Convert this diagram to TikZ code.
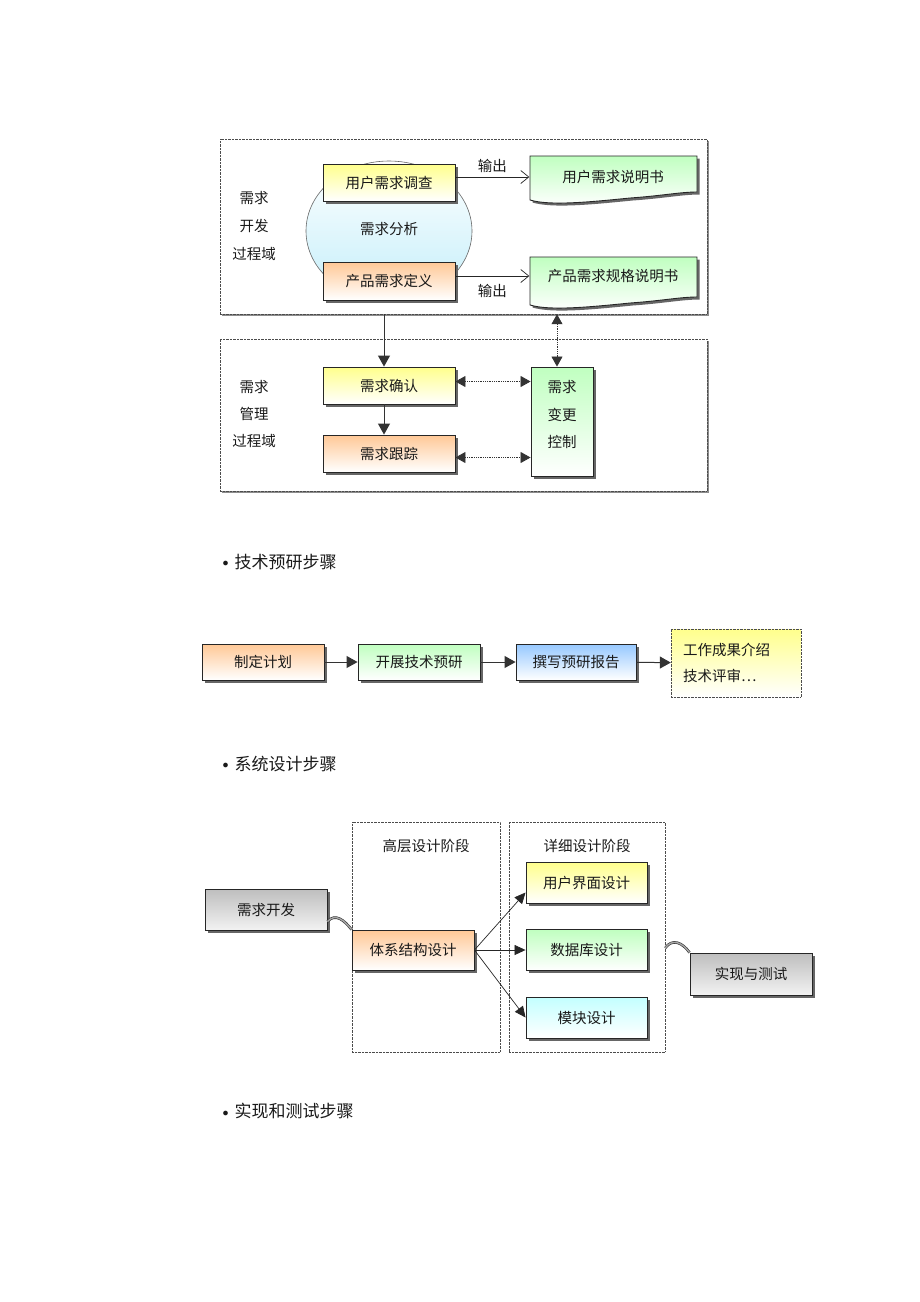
\documentclass[tikz,border=0pt]{standalone}
\usepackage{fontspec}
\setmainfont{Noto Sans CJK SC}
\usetikzlibrary{shapes.geometric,arrows.meta,shadows,positioning}

\definecolor{ygel}{RGB}{255,255,140}
\definecolor{orng}{RGB}{255,200,150}
\definecolor{grn}{RGB}{192,255,192}
\definecolor{blu}{RGB}{150,200,255}
\definecolor{cyn}{RGB}{195,255,255}
\definecolor{gry}{RGB}{190,190,190}
\definecolor{ell}{RGB}{195,238,250}

\newcommand{\dotmark}{\raisebox{1.5pt}{\fontsize{12}{14}\selectfont$\bullet$}\hspace{6pt}}

\begin{document}
\begin{tikzpicture}[x=1pt,y=-1pt,
	font=\fontsize{14.5}{17}\selectfont,
	every node/.style={text=black!90},
	box/.style={draw=black!85,line width=0.9pt,minimum width=132pt,minimum height=37pt,inner sep=0pt,
		drop shadow={shadow xshift=2.5pt,shadow yshift=-2.5pt,fill=black!60,opacity=1}},
	yelbox/.style={box,top color=ygel,bottom color=white},
	orabox/.style={box,top color=orng,bottom color=white},
	grnbox/.style={box,top color=grn,bottom color=white},
	blubox/.style={box,top color=blu,bottom color=white},
	cynbox/.style={box,top color=cyn,bottom color=white},
	grybox/.style={box,top color=gry,bottom color=white!95!black},
	domainbox/.style={draw=black!70,densely dotted,fill=white,inner sep=0pt,
		drop shadow={shadow xshift=1.8pt,shadow yshift=-1.8pt,fill=black!45,opacity=1}},
	phasebox/.style={draw=black!70,densely dotted,inner sep=0pt},
	docsty/.style={draw=black!85,line width=0.9pt,top color=grn,bottom color=white,
		drop shadow={shadow xshift=2.5pt,shadow yshift=-2.5pt,fill=black!60,opacity=1}},
	sol/.style={draw=black!80,line width=1pt,-{Triangle[length=11pt,width=12pt]}},
	thinarr/.style={draw=black!85,line width=0.7pt,-{Triangle[length=11pt,width=10pt]}},
	dotarr/.style={draw=black!80,line width=0.8pt,densely dotted,
		{Triangle[length=10pt,width=11pt]}-{Triangle[length=10pt,width=11pt]}},
	outarr/.style={draw=black!85,line width=0.7pt,-{Straight Barb[length=8pt,width=13pt]}},
	squig/.style={draw=black!80,double=black!35,double distance=1.4pt,line width=0.6pt},
	bulletitem/.style={anchor=west,font=\fontsize{17}{19}\selectfont}]
	\useasboundingbox (0,0) rectangle (920,1302);

	% requirements development / management
	\node[domainbox,minimum width=487pt,minimum height=175pt] (kfy) at (463.5,226.5) {};
	\node[domainbox,minimum width=487pt,minimum height=152pt] (gly) at (463.5,415) {};
	\node[align=center,font=\fontsize{14.5}{28}\selectfont] at (254,226) {需求\\开发\\过程域};
	\node[align=center,font=\fontsize{14.5}{27}\selectfont] at (254,414) {需求\\管理\\过程域};

	\node[ellipse,draw=black!60,line width=0.6pt,top color=white,bottom color=ell,
		minimum width=166pt,minimum height=140pt] (fx) at (389,231) {};
	\node at (389,229) {需求分析};
	\node[yelbox] (dc) at (389,182.5) {用户需求调查};
	\node[orabox,minimum height=38pt] (dy) at (389,281) {产品需求定义};

	\begin{scope}[shift={(530,156)}]
		\path[docsty] (0,0) -- (167,0) -- (167,36) .. controls (150,36) and (130,40) .. (100,42)
			.. controls (60,46) and (20,50) .. (0,44) -- cycle;
	\end{scope}
	\begin{scope}[shift={(530,257)}]
		\path[docsty] (0,0) -- (167,0) -- (167,40) .. controls (150,40) and (130,44) .. (100,46)
			.. controls (60,50) and (20,54) .. (0,48) -- cycle;
	\end{scope}
	\node[minimum width=167pt,inner sep=0pt] (sms) at (613,177) {用户需求说明书};
	\node[minimum width=167pt,inner sep=0pt] (ggs) at (613,276) {产品需求规格说明书};

	\draw[outarr] (dc.east |- sms.west) -- node[above=1pt] {输出} (sms.west);
	\draw[outarr] (dy.east |- ggs.west) -- node[below=5pt] {输出} (ggs.west);

	\node[yelbox] (qr) at (389,385.5) {需求确认};
	\node[orabox] (gz) at (389,453.5) {需求跟踪};
	\node[grnbox,minimum width=62pt,minimum height=109pt] (bg) at (562,421.5) {};
	\node[align=center,font=\fontsize{14.5}{27.5}\selectfont] at (562,414.5) {需求\\变更\\控制};

	\draw[sol] ([xshift=-5pt]qr.north |- kfy.south) -- ([xshift=-5pt]qr.north);
	\draw[sol] ([xshift=-5pt]qr.south) -- ([xshift=-5pt]gz.north);
	\draw[dotarr] ([xshift=-5pt]bg.north |- kfy.south) -- ([xshift=-5pt]bg.north);
	\draw[dotarr] ([yshift=4pt]qr.east) -- ([yshift=4pt]qr.east -| bg.west);
	\draw[dotarr] ([yshift=-4pt]gz.east) -- ([yshift=-4pt]gz.east -| bg.west);

	% pre-research steps
	\node[bulletitem] at (219,562) {\dotmark 技术预研步骤};
	\node[orabox,minimum width=122pt,minimum height=36pt] (jh) at (263,662) {制定计划};
	\node[grnbox,minimum width=122pt,minimum height=36pt] (yj) at (419,662) {开展技术预研};
	\node[blubox,minimum width=120pt,minimum height=36pt] (bg2) at (576,662) {撰写预研报告};
	\node[draw=black!70,densely dotted,top color=ygel,bottom color=white,align=left,
		text width=106pt,inner xsep=12pt,minimum height=68pt,
		font=\fontsize{14.5}{26}\selectfont] (cg) at (736,663) {工作成果介绍\\技术评审…};
	\draw[sol] (jh) -- (yj);
	\draw[sol] (yj) -- (bg2);
	\draw[sol] (bg2) -- (cg);

	% system design steps
	\node[bulletitem] at (219,764) {\dotmark 系统设计步骤};
	\node[phasebox,minimum width=148pt,minimum height=230pt] (gc) at (426,937) {};
	\node[phasebox,minimum width=156pt,minimum height=230pt] (xx) at (587,937) {};
	\node[below=14pt of gc.north] {高层设计阶段};
	\node[below=14pt of xx.north] {详细设计阶段};

	\node[grybox,minimum width=122pt,minimum height=41pt] (kf) at (266,909.5) {需求开发};
	\node[orabox,minimum width=122pt,minimum height=40pt] (tx) at (413,950) {体系结构设计};
	\node[yelbox,minimum width=121pt,minimum height=41pt] (yh) at (586.5,882.5) {用户界面设计};
	\node[grnbox,minimum width=121pt,minimum height=41pt] (sj) at (586.5,950) {数据库设计};
	\node[cynbox,minimum width=121pt,minimum height=41pt] (mk) at (586.5,1017.5) {模块设计};
	\node[grybox,minimum width=122pt,minimum height=42pt] (sc) at (751,974) {实现与测试};

	\draw[thinarr] (tx.east) -- ([yshift=-10pt]yh.west);
	\draw[thinarr] (tx.east) -- (sj.west);
	\draw[thinarr] (tx.east) -- (mk.west);
	\draw[squig] ([yshift=-12pt]kf.east) .. controls +(8,-9) and +(-7,-9) .. (tx.north west);
	\draw[squig] ([yshift=-11pt]xx.east) .. controls +(7,-10) and +(-7,-10) .. (sc.north west);

	% implementation and testing steps
	\node[bulletitem] at (219,1111) {\dotmark 实现和测试步骤};
\end{tikzpicture}
\end{document}
